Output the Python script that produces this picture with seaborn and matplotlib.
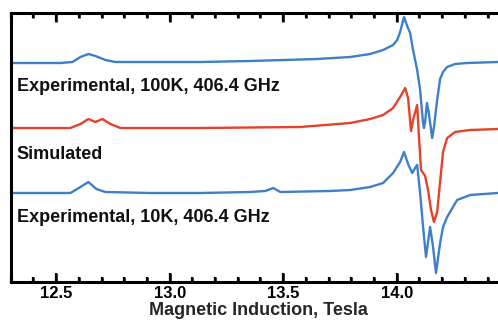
import matplotlib
matplotlib.use("Agg")
import matplotlib.pyplot as plt
import seaborn as sns
import numpy as np
from matplotlib.ticker import MultipleLocator, FormatStrFormatter

sns.set_theme(style="ticks", rc={
    "xtick.direction": "in",
    "xtick.top": True,
    "xtick.bottom": True,
    "xtick.major.size": 6.5,
    "xtick.minor.size": 3.5,
    "xtick.major.width": 1.6,
    "xtick.minor.width": 1.6,
    "xtick.color": "black",
    "xtick.labelsize": 12,
    "xtick.major.pad": 3,
    "axes.linewidth": 2.2,
    "axes.edgecolor": "black",
})
plt.rcParams['font.family'] = ['Liberation Sans', 'DejaVu Sans']

# ---- data (x in Tesla, y in arbitrary offset units) ----
field_100k = [12.299, 12.519, 12.572, 12.607, 12.642, 12.673, 12.717, 12.761, 12.915, 13.135,
              13.355, 13.650, 13.795, 13.883, 13.940, 13.984, 14.002, 14.015, 14.032, 14.046,
              14.059, 14.072, 14.090, 14.103, 14.116, 14.120, 14.125, 14.133, 14.142, 14.156,
              14.164, 14.178, 14.191, 14.204, 14.222, 14.257, 14.310, 14.446]
signal_100k = [219, 219, 220, 225, 228, 226, 222, 220, 220, 220,
               221, 223, 225, 228, 232, 237, 242, 250, 265, 256,
               249, 232, 212, 192, 159, 154, 160, 179, 168, 144,
               155, 182, 203, 210, 215, 218, 219, 220]

field_sim = [12.299, 12.563, 12.607, 12.642, 12.673, 12.704, 12.739, 12.783, 13.135, 13.575,
             13.795, 13.883, 13.940, 13.984, 14.015, 14.037, 14.050, 14.063, 14.072, 14.090,
             14.098, 14.107, 14.125, 14.138, 14.151, 14.164, 14.178, 14.191, 14.204, 14.222,
             14.257, 14.323, 14.446]
signal_sim = [154, 154, 158, 163, 160, 163, 158, 154, 154, 155,
              159, 163, 167, 174, 185, 194, 184, 151, 162, 177,
              145, 112, 106, 92, 72, 60, 70, 100, 130, 144,
              150, 152, 153]

field_10k = [12.299, 12.563, 12.607, 12.642, 12.677, 12.717, 12.915, 13.135, 13.355, 13.421,
             13.456, 13.487, 13.707, 13.795, 13.883, 13.940, 13.984, 14.015, 14.032, 14.050,
             14.068, 14.081, 14.090, 14.103, 14.116, 14.129, 14.138, 14.147, 14.160, 14.173,
             14.191, 14.204, 14.222, 14.266, 14.323, 14.446]
signal_10k = [89, 89, 95, 100, 93, 90, 89, 89, 90, 91,
              94, 90, 91, 92, 95, 99, 109, 120, 130, 118,
              109, 114, 117, 89, 55, 25, 40, 55, 35, 9,
              39, 55, 65, 82, 87, 89]

labels = ["Experimental, 100K, 406.4 GHz", "Simulated", "Experimental, 10K, 406.4 GHz"]
label_y = [191, 123, 60]
xlabel = "Magnetic Induction, Tesla"

blue = "#3d7fc8"
red = "#e6412b"

W, H = 498, 322
fig = plt.figure(figsize=(W / 100, H / 100), dpi=100)
left_px, right_px, top_px, bottom_px = 10.5, 498, 13, 282
ax = fig.add_axes([left_px / W, (H - bottom_px) / H, (right_px - left_px) / W, (bottom_px - top_px) / H])

sns.lineplot(x=field_100k, y=signal_100k, ax=ax, color=blue, linewidth=1.7, sort=False, estimator=None)
sns.lineplot(x=field_sim, y=signal_sim, ax=ax, color=red, linewidth=1.7, sort=False, estimator=None)
sns.lineplot(x=field_10k, y=signal_10k, ax=ax, color=blue, linewidth=1.7, sort=False, estimator=None)

ax.set_xlim(12.299, 14.446)
ax.set_ylim(0, 269)

for t, y in zip(labels, label_y):
    ax.text(12.327, y, t, fontsize=13, fontweight="bold", color="#111111", va="baseline", ha="left")

ax.xaxis.set_major_locator(MultipleLocator(0.5))
ax.xaxis.set_minor_locator(MultipleLocator(0.1))
ax.xaxis.set_major_formatter(FormatStrFormatter("%.1f"))
ax.tick_params(axis="y", which="both", left=False, right=False, labelleft=False)
ax.set_xlabel(xlabel, fontsize=13, fontweight="bold", labelpad=0)
ax.xaxis.set_label_coords((258 - left_px) / (right_px - left_px), -0.075)
ax.set_ylabel("")
ax.spines["right"].set_visible(False)
for lab in ax.get_xticklabels():
    lab.set_fontweight("bold")

# inward tick marks drawn from the axis' own locators (top and bottom)
x0, x1 = ax.get_xlim()
major_locs = [v for v in ax.xaxis.get_majorticklocs() if x0 < v < x1]
minor_locs = [v for v in ax.xaxis.get_minorticklocs() if x0 < v < x1]
xt = ax.get_xaxis_transform()
maj_len = 9 / (bottom_px - top_px)
min_len = 5 / (bottom_px - top_px)
for locs, ln in ((major_locs, maj_len), (minor_locs, min_len)):
    ax.vlines(locs, 0, ln, transform=xt, colors="black", linewidth=1.8, clip_on=False, zorder=5)
    ax.vlines(locs, 1 - ln, 1, transform=xt, colors="black", linewidth=1.8, clip_on=False, zorder=5)

fig.savefig("out.png", dpi=100)
